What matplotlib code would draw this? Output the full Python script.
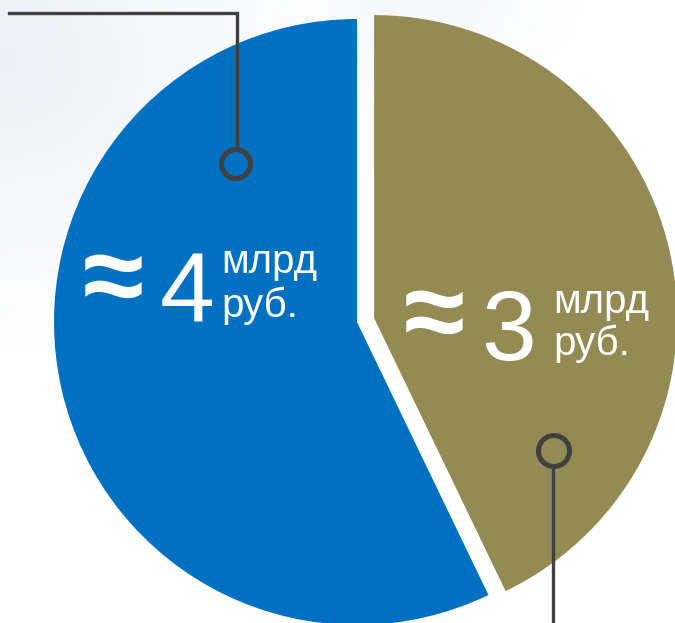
import numpy as np
import matplotlib.pyplot as plt
from matplotlib.patches import Circle

# данные
values = [3, 4]               # млрд руб.
labels_num = ["3", "4"]
unit_top = "млрд"
unit_bot = "руб."
colors = ["#948A54", "#0070C0"]
explode = [0.058, 0]

W, H = 675, 623
fig = plt.figure(figsize=(W / 100, H / 100), dpi=100)
fig.patch.set_facecolor("white")

# фон: лёгкий серый градиент слева сверху
ax_bg = fig.add_axes([0, 0, 1, 1], zorder=0)
yy, xx = np.mgrid[0:H, 0:W]
d = np.hypot((xx - 0) / 1.2, yy - 60)
t = np.clip(1 - d / 330, 0, 1) ** 1.3
d2 = np.hypot((xx - 420) / 1.5, yy)
t2 = np.clip(1 - d2 / 120, 0, 1) * 0.5
t = np.maximum(t, t2)
base = np.array([1.0, 1.0, 1.0])
gray = np.array([236, 239, 244]) / 255
img = base[None, None, :] * (1 - t[..., None]) + gray[None, None, :] * t[..., None]
ax_bg.imshow(img, extent=(0, W, H, 0), aspect="auto")
ax_bg.set_xlim(0, W)
ax_bg.set_ylim(H, 0)
ax_bg.axis("off")

# круговая диаграмма (радиус = 1, центр = (0, 0))
R = 303.0
cx, cy = 357.0, 322.0
ax = fig.add_axes([0, 0, 1, 1], zorder=1)
ax.patch.set_alpha(0)
ax.pie(values, colors=colors, explode=explode, startangle=90,
       counterclock=False, radius=1, wedgeprops=dict(linewidth=0))
ax.set_xlim(-cx / R, (W - cx) / R)
ax.set_ylim(-(H - cy) / R, cy / R)
ax.set_aspect("equal")
ax.axis("off")

# подписи и выноски в пикселях
ov = fig.add_axes([0, 0, 1, 1], zorder=2)
ov.patch.set_alpha(0)
ov.set_xlim(0, W)
ov.set_ylim(H, 0)
ov.axis("off")

fam = ["Liberation Sans Narrow", "Arial Narrow", "Liberation Sans", "DejaVu Sans"]
txt = dict(color="white", family=fam)

# синий сектор: ≈ 4 млрд руб.
ov.text(113, 284, "≈", fontsize=80, fontweight="bold", ha="center", va="center", **txt)
ov.text(187, 322, labels_num[1], fontsize=71, ha="center", va="baseline", **txt)
ov.text(221, 273, unit_top, fontsize=29, ha="left", va="baseline", **txt)
ov.text(221, 317, unit_bot, fontsize=29, ha="left", va="baseline", **txt)

# оливковый сектор: ≈ 3 млрд руб.
ov.text(434, 320, "≈", fontsize=80, fontweight="bold", ha="center", va="center", **txt)
ov.text(509, 360, labels_num[0], fontsize=71, ha="center", va="baseline", **txt)
ov.text(553, 313, unit_top, fontsize=29, ha="left", va="baseline", **txt)
ov.text(553, 355, unit_bot, fontsize=29, ha="left", va="baseline", **txt)

lc = "#404040"
ov.plot([9, 237, 237], [13, 13, 149], color=lc, lw=2.4, solid_joinstyle="miter")
ov.add_patch(Circle((236, 164), 14.5, facecolor="none", edgecolor=lc, lw=3.6))
ov.plot([553, 553], [468, 623], color=lc, lw=2.4)
ov.add_patch(Circle((554, 451), 15.5, facecolor="none", edgecolor=lc, lw=3.6))

fig.savefig("out.png", dpi=100)
